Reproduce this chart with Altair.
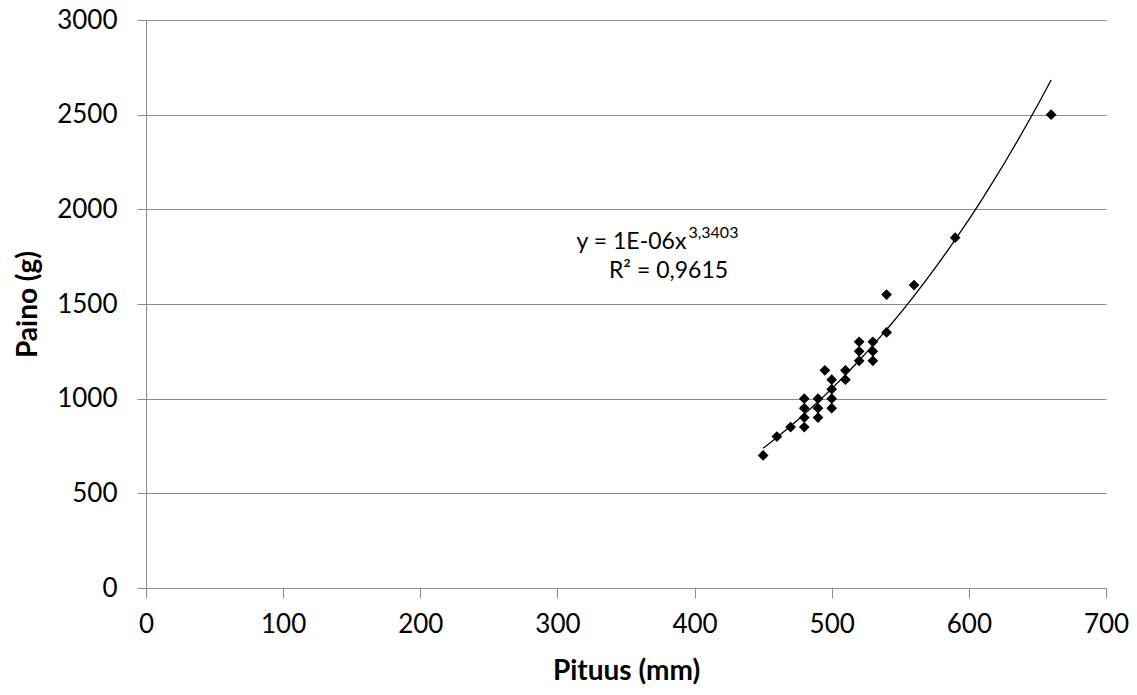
import altair as alt
import pandas as pd

# Data
pituus = [450, 460, 470,
          480, 480, 480, 480,
          490, 490, 490,
          495,
          500, 500, 500, 500,
          510, 510,
          520, 520, 520,
          530, 530, 530,
          540, 540, 560, 590, 660]
paino = [700, 800, 850,
         1000, 950, 900, 850,
         1000, 950, 900,
         1150,
         1100, 1050, 1000, 950,
         1150, 1100,
         1300, 1250, 1200,
         1300, 1250, 1200,
         1350, 1550, 1600, 1850, 2500]

x_ticks = [0, 100, 200, 300, 400, 500, 600, 700]
y_ticks = [0, 500, 1000, 1500, 2000, 2500, 3000]

eq_main = ["y = 1E-06x"]
eq_sup = ["3,3403"]
eq_r2 = ["R² = 0,9615"]

FONT = "Lato"
GRAY = "#8c8c8c"

df = pd.DataFrame({"Pituus": pituus, "Paino": paino})

xs = alt.Scale(domain=[0, 700], nice=False)
ys = alt.Scale(domain=[0, 3000], nice=False)

x_axis = alt.Axis(values=x_ticks, grid=False, title="Pituus (mm)", tickSize=10,
                  labelPadding=13, titlePadding=20, format="d", labelFlush=False)
y_axis = alt.Axis(values=y_ticks, grid=True, title="Paino (g)", tickSize=9,
                  labelPadding=20, titlePadding=14, format="d", labelFlush=False)

base = alt.Chart(df)

points = base.mark_point(shape="diamond", filled=True, color="black", size=115, opacity=1).encode(
    x=alt.X("Pituus:Q", scale=xs, axis=x_axis),
    y=alt.Y("Paino:Q", scale=ys, axis=y_axis),
)

trend = base.transform_regression(
    "Pituus", "Paino", method="pow", extent=[450, 660]
).mark_line(color="black", strokeWidth=1.3).encode(
    x=alt.X("Pituus:Q", scale=xs),
    y=alt.Y("Paino:Q", scale=ys),
)

t_main = alt.Chart(pd.DataFrame({"x": [394], "y": [1790], "t": eq_main})).mark_text(
    align="right", baseline="alphabetic", font=FONT, fontSize=23, color="black"
).encode(x=alt.X("x:Q", scale=xs), y=alt.Y("y:Q", scale=ys), text="t:N")

t_sup = alt.Chart(pd.DataFrame({"x": [395.5], "y": [1849], "t": eq_sup})).mark_text(
    align="left", baseline="alphabetic", font=FONT, fontSize=16, color="black"
).encode(x=alt.X("x:Q", scale=xs), y=alt.Y("y:Q", scale=ys), text="t:N")

t_r2 = alt.Chart(pd.DataFrame({"x": [381], "y": [1637], "t": eq_r2})).mark_text(
    align="center", baseline="alphabetic", font=FONT, fontSize=23, color="black"
).encode(x=alt.X("x:Q", scale=xs), y=alt.Y("y:Q", scale=ys), text="t:N")

chart = alt.layer(points, trend, t_main, t_sup, t_r2).properties(
    width=960, height=568,
    autosize=alt.AutoSizeParams(type="none"),
    padding={"left": 146, "top": 20, "right": 31, "bottom": 107},
    background="white",
).configure_view(stroke=None).configure_axis(
    domainColor=GRAY, tickColor=GRAY, gridColor=GRAY, domainWidth=1, gridWidth=1,
    labelFont=FONT, labelFontSize=26, labelColor="black",
    titleFont=FONT, titleFontSize=28, titleFontWeight="bold", titleColor="black",
)

chart.save("out.html", embed_options={"renderer": "svg", "actions": False})
